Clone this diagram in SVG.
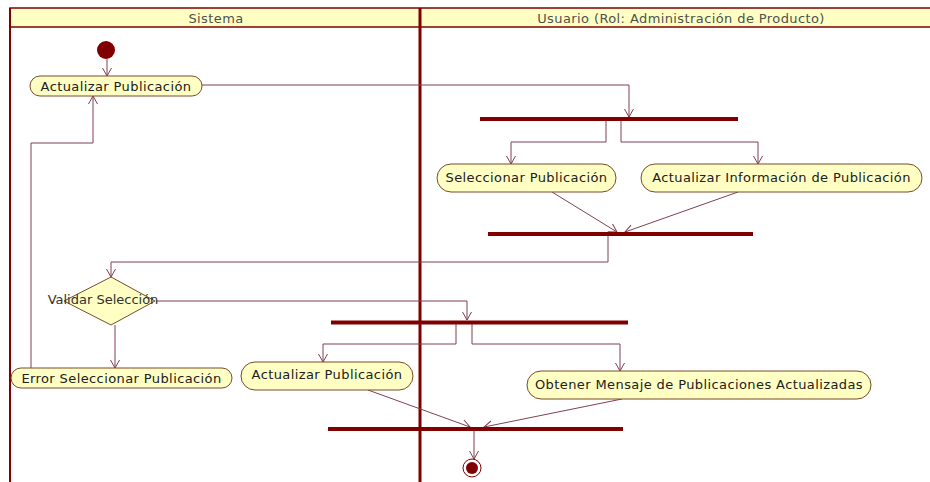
<svg xmlns="http://www.w3.org/2000/svg" width="930" height="482" viewBox="0 0 930 482">
<defs>
<style>
.lane{fill:none;stroke:#800000}
.hdr{fill:#ffffc4;stroke:#800000;stroke-width:1.5}
.htxt{font-family:"DejaVu Sans",sans-serif;font-size:13px;letter-spacing:0.4px;fill:#505050;text-anchor:middle;dominant-baseline:central}
.act{fill:#ffffc4;stroke:#7a4a2a;stroke-width:1}
.atxt{font-family:"DejaVu Sans",sans-serif;font-size:13px;letter-spacing:0.4px;fill:#202020;text-anchor:middle;dominant-baseline:central}
.dtxt{font-family:"DejaVu Sans",sans-serif;font-size:13px;fill:#303030;text-anchor:middle;dominant-baseline:central}
.bar{fill:#800000}
.con{fill:none;stroke:#804050;stroke-width:1;marker-end:url(#arr)}
</style>
<marker id="arr" markerUnits="userSpaceOnUse" markerWidth="12" markerHeight="12" viewBox="-10 -6 12 12" refX="0" refY="0" orient="auto">
<path d="M-8,-4.5 L0,0 L-8,4.5" fill="none" stroke="#804050" stroke-width="1"/>
</marker>
</defs>
<rect width="930" height="482" fill="#ffffff"/>
<g id="lanes">
<rect class="hdr" x="10" y="8" width="932" height="19"/>
<line class="lane" x1="10" y1="8" x2="10" y2="482" stroke-width="2"/>
<line class="lane" x1="420" y1="8" x2="420" y2="482" stroke-width="3"/>
<text class="htxt" x="216" y="18">Sistema</text>
<text class="htxt" x="681" y="18">Usuario (Rol: Administración de Producto)</text>
</g>
<g id="connectors">
<path class="con" d="M107,59 L107,76"/>
<path class="con" d="M202,85 L629,85 L629,117"/>
<path class="con" d="M606,121 L606,142 L511,142 L511,164"/>
<path class="con" d="M621,121 L621,142 L758,142 L758,164"/>
<path class="con" d="M552,192 L617,232"/>
<path class="con" d="M738,192 L625,232"/>
<path class="con" d="M608,236 L608,262 L111,262 L111,277"/>
<path class="con" d="M156,301 L467,301 L467,320"/>
<path class="con" d="M456,324 L456,344 L323,344 L323,362"/>
<path class="con" d="M472,324 L472,344 L620,344 L620,371"/>
<path class="con" d="M368,390 L470,427"/>
<path class="con" d="M622,399 L484,427"/>
<path class="con" d="M474,431 L474,459"/>
<path class="con" d="M115,325 L115,368"/>
<path class="con" d="M31,368 L31,143 L93,143 L93,96"/>
</g>
<g id="start"><circle cx="106" cy="50" r="9" fill="#800000"/></g>
<g id="end"><circle cx="472" cy="468" r="9" fill="#ffffff" stroke="#800000" stroke-width="1"/><circle cx="472" cy="468" r="6" fill="#800000"/></g>
<g id="fork1"><rect class="bar" x="480" y="117" width="258" height="4"/></g>
<g id="join1"><rect class="bar" x="488" y="232" width="265" height="4"/></g>
<g id="fork2"><rect class="bar" x="331" y="320.5" width="297" height="4"/></g>
<g id="join2"><rect class="bar" x="328" y="427" width="295" height="4"/></g>
<g id="actualizarPublicacion1"><rect class="act" x="30" y="76" width="172" height="20" rx="10"/><text class="atxt" x="116" y="86">Actualizar Publicación</text></g>
<g id="seleccionarPublicacion"><rect class="act" x="437" y="164" width="179" height="28" rx="14"/><text class="atxt" x="526.5" y="177">Seleccionar Publicación</text></g>
<g id="actualizarInformacion"><rect class="act" x="641" y="164" width="281" height="28" rx="14"/><text class="atxt" x="781.5" y="177">Actualizar Información de Publicación</text></g>
<g id="validarSeleccion"><polygon points="111,277 155,301 111,325 64,301" fill="#ffffc4" stroke="#7a4a2a" stroke-width="1"/><text class="dtxt" x="103" y="299">Validar Selección</text></g>
<g id="errorSeleccionar"><rect class="act" x="11" y="368" width="221" height="20" rx="10"/><text class="atxt" x="121.5" y="378">Error Seleccionar Publicación</text></g>
<g id="actualizarPublicacion2"><rect class="act" x="241" y="362" width="172" height="28" rx="14"/><text class="atxt" x="327" y="374">Actualizar Publicación</text></g>
<g id="obtenerMensaje"><rect class="act" x="527" y="371" width="344" height="28" rx="14"/><text class="atxt" x="699" y="384">Obtener Mensaje de Publicaciones Actualizadas</text></g>
</svg>
